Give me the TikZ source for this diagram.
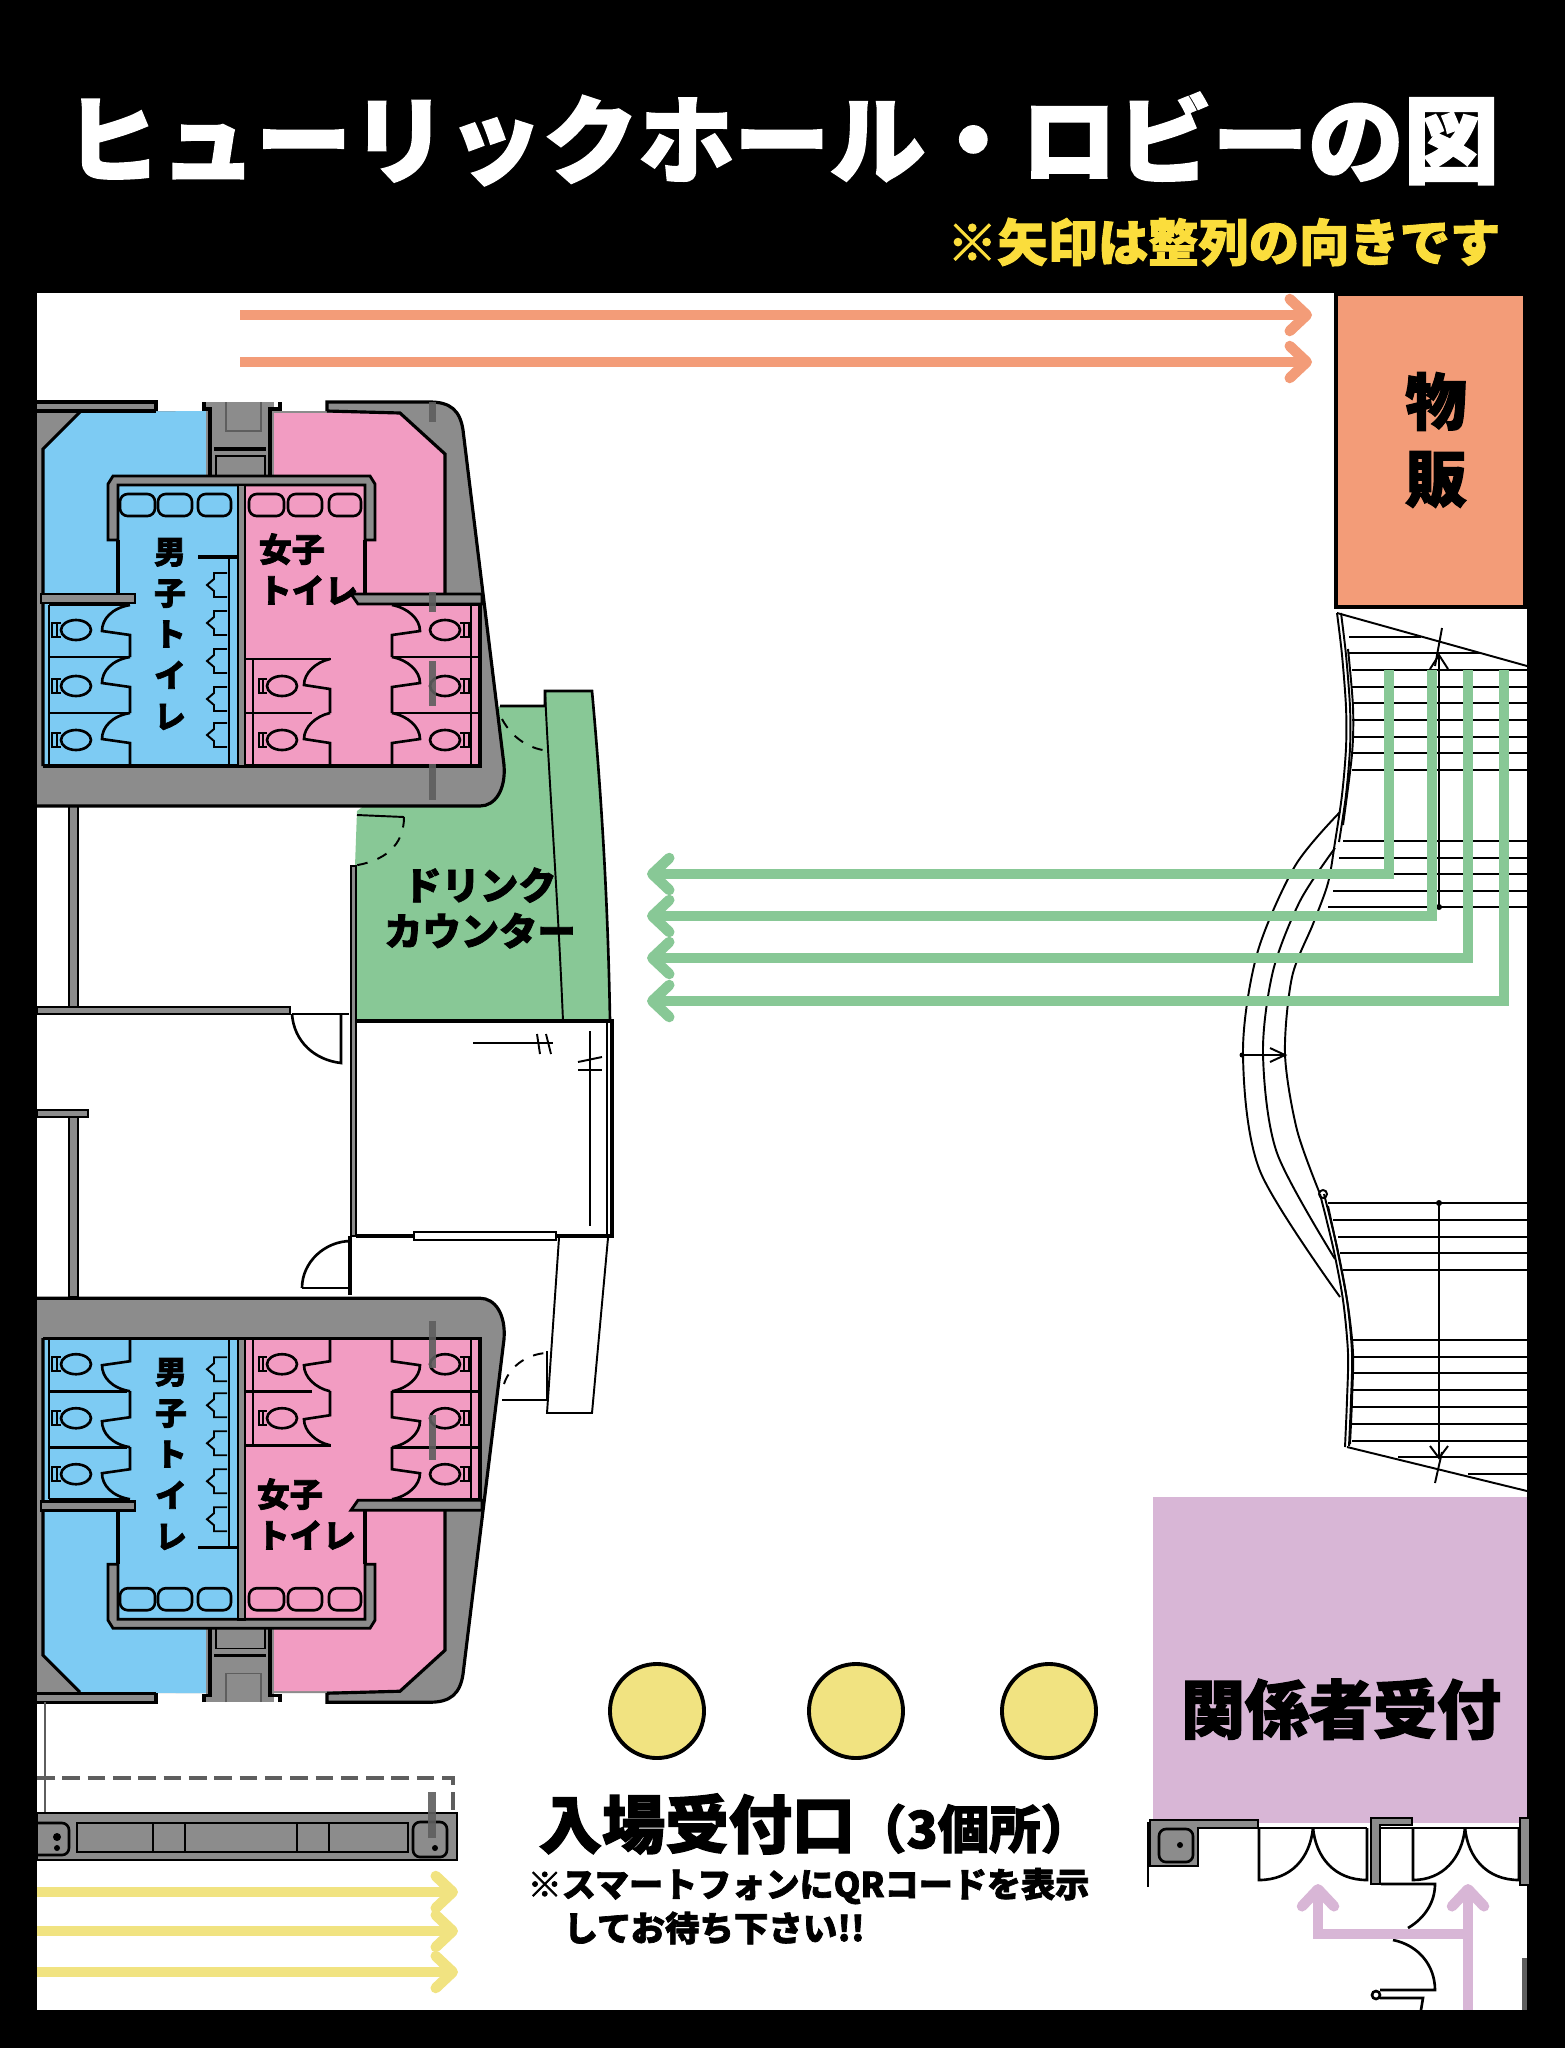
\documentclass[tikz,border=0pt]{standalone}
\usepackage{fontspec}
\usetikzlibrary{arrows.meta}
\newfontfamily\jpfont{Noto Sans CJK JP}[BoldFeatures={FakeBold=2}]
\definecolor{menblue}{HTML}{7DCBF3}
\definecolor{ladypink}{HTML}{F29CC2}
\definecolor{drinkgreen}{HTML}{88C896}
\definecolor{shoporange}{HTML}{F39C78}
\definecolor{staffpurple}{HTML}{D8B6D6}
\definecolor{gateyellow}{HTML}{F1E381}
\definecolor{notegold}{HTML}{FBDD3C}
\definecolor{wallgray}{HTML}{8C8C8C}
\definecolor{markgray}{HTML}{5E5E5E}

\newcommand{\toiletblock}{
  % outer walls
  \fill[wallgray] (37,402) -- (156,402) -- (156,411) -- (327,411) -- (327,402) -- (430,402)
    .. controls (450,402) and (460,410) .. (463,430) -- (504,765)
    .. controls (506,790) and (495,806) .. (480,806) -- (37,806) -- cycle;
  \draw[wall] (327,411) -- (327,402) -- (430,402)
    .. controls (450,402) and (460,410) .. (463,430) -- (504,765)
    .. controls (506,790) and (495,806) .. (480,806) -- (37,806);
  \draw[wall] (37,402) -- (156,402) -- (156,411);

  % rooms
  \fill[menblue] (43,449) -- (80,412) -- (206,411) -- (206,482) -- (238,482) -- (238,766) -- (43,766) -- cycle;
  \fill[ladypink] (274,413) -- (400,413) -- (445,454) -- (445,600) -- (480,600) -- (480,766) -- (245,766) -- (245,482) -- (274,482) -- cycle;
  \draw[wall] (37,411) -- (156,411);
  \draw[wall] (43,766) -- (43,449) -- (80,412);
  \draw[wall] (327,411) -- (400,413) -- (445,454) -- (445,597);
  \draw[wall] (43,766) -- (480,766) -- (480,600);

  % shaft between the rooms
  \fill[wallgray] (206,402) rectangle (274,476);
  \draw[wall] (204,402) -- (204,409) -- (210,409) -- (210,476);
  \draw[wall] (280,402) -- (280,409) -- (270,409) -- (270,476);
  \draw[thin,markgray] (226,402) -- (226,431) -- (261,431) -- (261,402);
  \draw[wall] (214,449) -- (266,449);
  \draw[thin] (216,456) rectangle (265,476);

  % L-shaped walls and partition
  \fill[wallgray,draw=black,thick] (108,540) -- (108,484) -- (113,476) -- (370,476) -- (375,484) -- (375,540)
    -- (365,540) -- (365,485) -- (118,485) -- (118,540) -- cycle;
  \fill[wallgray,draw=black,thick] (238,485) rectangle (245,766);
  \fill[wallgray,draw=black,thick] (41,594) -- (135,594) -- (135,603) -- (41,603) -- cycle;
  \fill[wallgray,draw=black,thick] (351,594) -- (482,594) -- (482,604) -- (358,604) -- cycle;
  \draw[wall] (118,540) -- (118,594);
  \draw[wall] (365,540) -- (365,594);

  % sinks
  \foreach \a/\b in {120/155,158/192,198/231,249/284,288/322,329/361} {
    \draw[stall,rounded corners=2.2pt] (\a,494) rectangle (\b,516);
  }

  % men: stalls
  \draw[stall] (49,605) -- (49,766);
  \foreach \t/\b in {605/657,657/713,713/765} {
    \draw[stall] (49,\t) -- (127,\t);
    \draw[stall] (130,\t) .. controls (112,\t+3) and (102,\t+14) .. (102,\t+26) -- (130,\t+30) -- (130,\b);
  }
  \foreach \y in {630,686,740} {
    \draw[stall] (76,\y) ellipse [x radius=15,y radius=10];
    \draw[stair] (61,\y-7) -- (52,\y-7) -- (52,\y+7) -- (61,\y+7);
    \draw[stair] (57,\y-7) -- (57,\y+7);
  }

  % men: urinals
  \draw[wall] (198,557) -- (238,557);
  \draw[stall] (229,557) -- (229,766);
  \foreach \y in {585,623,661,699,735} {
    \draw[stair] (227,\y-12) -- (214,\y-12) -- (214,\y-6) -- (207,\y) -- (214,\y+6) -- (214,\y+12) -- (227,\y+12);
  }

  % ladies: stalls on the left
  \draw[stall] (253,659) -- (253,766);
  \draw[stall] (245,659) -- (331,659);
  \draw[stall] (245,713) -- (312,713);
  \foreach \t/\b in {659/713,713/765} {
    \draw[stall] (330,\t) .. controls (316,\t+3) and (304,\t+14) .. (304,\t+26) -- (330,\t+30) -- (330,\b);
  }
  \foreach \y in {686,740} {
    \draw[stall] (282,\y) ellipse [x radius=15,y radius=10];
    \draw[stair] (267,\y-7) -- (259,\y-7) -- (259,\y+7) -- (267,\y+7);
    \draw[stair] (263,\y-7) -- (263,\y+7);
  }

  % ladies: stalls on the right
  \draw[stall] (471,605) -- (471,766);
  \foreach \t/\b in {605/657,657/713,713/765} {
    \draw[stall] (392,\t) -- (480,\t);
    \draw[stall] (392,\t) .. controls (408,\t+3) and (420,\t+14) .. (420,\t+26) -- (392,\t+30) -- (392,\b);
  }
  \foreach \y in {630,686,740} {
    \draw[stall] (445,\y) ellipse [x radius=15,y radius=10];
    \draw[stair] (460,\y-7) -- (469,\y-7) -- (469,\y+7) -- (460,\y+7);
    \draw[stair] (464,\y-7) -- (464,\y+7);
  }
}

\begin{document}
\begin{tikzpicture}[x=0.01cm,y=-0.01cm,
    jp/.style={font=\jpfont\bfseries,inner sep=0pt,align=center},
    wall/.style={line width=0.9pt,black},
    stall/.style={line width=0.75pt,black},
    stair/.style={line width=0.55pt,black},
    route/.style={line width=0.105cm,line join=miter,-{Straight Barb[length=0.17cm,width=0.32cm,round]}},
    pillar/.style={markgray,opacity=0.9}]

% page
  \fill[black] (0,0) rectangle (1565,2048);
  \useasboundingbox (0,0) rectangle (1565,2048);
  \fill[white] (37,293) rectangle (1527,2010);

% title
  \node[jp,text=white,font=\jpfont\bfseries\fontsize{27.2}{30}\selectfont] (title) at (782,139) {ヒューリックホール・ロビーの図};
  \node[jp,text=notegold,anchor=east,font=\jpfont\bfseries\fontsize{14.3}{16}\selectfont] (note) at (1501,242) {※矢印は整列の向きです};

% drink counter
  \fill[drinkgreen] (357,811) -- (500,706) -- (545,706) -- (545,691) -- (592,691)
    .. controls (601,790) and (608,900) .. (610,1021) -- (355,1021) -- (355,866) -- cycle;
  \draw[stall] (500,706) -- (545,706) -- (545,691) -- (592,691) .. controls (601,790) and (608,900) .. (610,1021);
  \draw[stair] (545,691) .. controls (549,780) and (558,900) .. (563,1021);
  \draw[stair,dashed] (502,719) .. controls (512,738) and (530,750) .. (551,751);
  \draw[stair] (357,815) -- (404,817);
  \draw[stair,dashed] (404,817) .. controls (404,845) and (385,862) .. (351,866);
  \fill[wallgray,draw=black,thin] (351,866) rectangle (356,1236);

% small rooms on the left
  \fill[wallgray,draw=black,thin] (69,806) rectangle (78,1007);
  \fill[wallgray,draw=black,thin] (37,1007) rectangle (290,1014);
  \draw[stair] (292,1014) -- (349,1014);
  \draw[stall] (341,1014) -- (341,1063) .. controls (315,1060) and (294,1042) .. (292,1014);
  \fill[wallgray,draw=black,thin] (37,1110) rectangle (88,1117);
  \fill[wallgray,draw=black,thin] (69,1117) rectangle (78,1297);

% room under the drink counter
  \draw[wall] (356,1021) -- (612,1021) -- (612,1236) -- (356,1236);
  \draw[stair] (607,1021) -- (607,1236);
  \draw[stall] (473,1043) -- (553,1043);
  \draw[stair] (537,1034) -- (540,1054);
  \draw[stair] (546,1034) -- (551,1054);
  \draw[stall] (590,1031) -- (590,1226);
  \draw[stair] (578,1062) -- (602,1057);
  \draw[stair] (578,1070) -- (602,1070);
  \draw[wall] (350,1236) -- (350,1295);
  \draw[stair,fill=white] (414,1232) rectangle (556,1240);
  \draw[stall] (351,1241) .. controls (325,1241) and (302,1262) .. (302,1288);
  \draw[stair] (302,1288) -- (351,1288);

% small stand below that room
  \draw[stair] (559,1238) -- (547,1413) -- (592,1413) -- (608,1238);
  \draw[stall] (502,1400) -- (547,1400) -- (547,1351);
  \draw[stair,dashed] (504,1384) .. controls (510,1365) and (530,1352) .. (551,1353);

% toilets
  \toiletblock
  \begin{scope}[y=0.01cm,yshift=-21.03cm]
    \toiletblock
  \end{scope}
  \fill[pillar] (429,402) rectangle (436,422);
  \fill[pillar] (429,592) rectangle (436,612);
  \fill[pillar] (429,661) rectangle (436,706);
  \fill[pillar] (429,764) rectangle (436,800);
  \fill[pillar] (429,1321) rectangle (436,1368);
  \fill[pillar] (429,1415) rectangle (436,1460);

  \node[jp,font=\jpfont\bfseries\fontsize{9}{11.7}\selectfont] (menup) at (170,634) {男\\子\\ト\\イ\\レ};
  \node[jp,font=\jpfont\bfseries\fontsize{9}{11.7}\selectfont] (menlow) at (171,1454) {男\\子\\ト\\イ\\レ};
  \node[jp,align=left,anchor=west,font=\jpfont\bfseries\fontsize{9.4}{11.7}\selectfont] (ladyup) at (258,569) {女子\\トイレ};
  \node[jp,align=left,anchor=west,font=\jpfont\bfseries\fontsize{9.4}{11.7}\selectfont] (ladylow) at (256,1514) {女子\\トイレ};
  \node[jp,font=\jpfont\bfseries\fontsize{10.9}{13}\selectfont] (drink) at (480,908) {ドリンク\\カウンター};

% bar at the bottom left
  \draw[stair,markgray] (45,1702) -- (45,1812);
  \draw[markgray,line width=1pt,dash pattern=on 5pt off 2.2pt] (37,1778) -- (453,1778) -- (453,1812);
  \fill[wallgray,draw=black,thick] (37,1813) rectangle (457,1860);
  \draw[stall] (77,1823) rectangle (408,1852);
  \foreach \x in {153,185,297,329} {
    \draw[stall] (\x,1823) -- (\x,1852);
  }
  \draw[stall,rounded corners=2pt] (37,1823) -- (69,1823) -- (69,1855) -- (37,1855);
  \draw[stall,rounded corners=2pt] (413,1822) rectangle (447,1857);
  \fill[black] (57,1837) circle (4);
  \fill[black] (57,1848) circle (3);
  \fill[black] (435,1848) circle (3);
  \fill[pillar] (428,1792) rectangle (436,1838);

% shop
  \fill[shoporange,draw=black,line width=1.3pt] (1336,294) rectangle (1525,607);
  \node[jp,font=\jpfont\bfseries\fontsize{17.5}{21.8}\selectfont] (shop) at (1436,440) {物\\販};

% stairs, upper part
  \draw[stair] (1337,613) -- (1527,666);
  \draw[stair] plot[smooth] coordinates {(1341,613) (1346,655) (1350,707) (1350,748) (1346,795) (1339,842)};
  \draw[stair] plot[smooth] coordinates {(1348,649) (1353,707) (1352,754) (1343,825)};
  \foreach \y/\x in {637/1421,653/1480} {
    \draw[stair] (1349,\y) -- (\x,\y);
  }
  \foreach \y in {670,687,703,720,737,753,770} {
    \draw[stair] (1352,\y) -- (1527,\y);
  }
  \foreach \y/\x in {841/1343,858/1339,874/1336,891/1333,907/1328} {
    \draw[stair] (\x,\y) -- (1527,\y);
  }
  \draw[stall] (1439,907) -- (1439,657);
  \fill[black] (1439,907) circle (3);
  \draw[stair] (1430,669) -- (1439,655) -- (1448,669);
  \draw[stair] (1442,628) -- (1435,666);

% stairs, curved part
  \draw[stair] plot[smooth] coordinates {(1340,812) (1295,866) (1257,954) (1243,1054) (1260,1171) (1340,1297)};
  \draw[stair] plot[smooth] coordinates {(1335,848) (1300,901) (1273,971) (1263,1054) (1277,1153) (1335,1259)};
  \draw[stair] plot[smooth] coordinates {(1337,613) (1342,655) (1346,707) (1346,748) (1342,795) (1335,842) (1328,883) (1313,924) (1292,977) (1285,1054) (1297,1130) (1320,1194)};
  \fill[black] (1242,1055) circle (2.5);
  \draw[stair] (1242,1055) -- (1285,1055);
  \draw[stair] (1270,1048) -- (1285,1055) -- (1270,1062);
  \draw[stair,fill=white] (1323,1194) circle (4);

% stairs, lower part
  \draw[stair] plot[smooth] coordinates {(1320,1194) (1333,1247) (1343,1300) (1348,1353) (1347,1400) (1345,1447)};
  \draw[stair] plot[smooth] coordinates {(1324,1194) (1337,1247) (1347,1300) (1352,1353) (1351,1400) (1349,1446)};
  \draw[stair] plot[smooth] coordinates {(1328,1206) (1338,1253) (1348,1306) (1353,1353) (1352,1400) (1350,1444)};
  \foreach \y/\x in {1203/1328,1220/1333,1237/1338,1253/1340,1270/1343} {
    \draw[stair] (\x,\y) -- (1527,\y);
  }
  \foreach \y in {1340,1357,1373,1390,1407,1424,1441} {
    \draw[stair] (1352,\y) -- (1527,\y);
  }
  \foreach \y/\x in {1457/1398,1474/1468} {
    \draw[stair] (\x,\y) -- (1527,\y);
  }
  \draw[stair] (1347,1447) -- (1527,1491);
  \draw[stall] (1439,1203) -- (1439,1456);
  \fill[black] (1439,1203) circle (3);
  \draw[stair] (1430,1446) -- (1439,1458) -- (1448,1446);
  \draw[stair] (1442,1452) -- (1435,1483);

% drink queue
  \foreach \x/\y in {1389/874,1432/916,1468/958,1504/1001} {
    \draw[route,drinkgreen] (\x,670) -- (\x,\y) -- (647,\y);
  }

% shop and entrance queue
  \foreach \y in {315,362} {
    \draw[route,shoporange] (240,\y) -- (1312,\y);
  }
  \foreach \y in {1892,1931,1972} {
    \draw[route,gateyellow] (37,\y) -- (458,\y);
  }

% staff desk
  \fill[staffpurple] (1153,1497) rectangle (1527,1823);
  \node[jp,font=\jpfont\bfseries\fontsize{18.2}{20}\selectfont] (staff) at (1341,1709) {関係者受付};

% doors under the staff desk
  \fill[wallgray,draw=black,thin] (1150,1820) -- (1258,1820) -- (1258,1828) -- (1198,1828) -- (1198,1866) -- (1150,1866) -- cycle;
  \draw[stall,rounded corners=2pt] (1159,1829) rectangle (1193,1862);
  \fill[black] (1180,1845) circle (3);
  \draw[stall] (1148,1822) -- (1148,1887);
  \fill[wallgray,draw=black,thin] (1371,1818) -- (1412,1818) -- (1412,1825) -- (1380,1825) -- (1380,1884) -- (1371,1884) -- cycle;
  \draw[stall] (1258,1828) -- (1367,1828);
  \draw[stall] (1380,1828) -- (1527,1828);
  \foreach \l/\c/\r in {1259/1313/1367,1413/1465/1519} {
    \draw[stall] (\l,1828) -- (\l,1880) .. controls (\c-22,1880) and (\c-3,1858) .. (\c,1828);
    \draw[stall] (\r,1828) -- (\r,1880) .. controls (\c+22,1880) and (\c+3,1858) .. (\c,1828);
  }
  \fill[wallgray,draw=black,thin] (1520,1818) rectangle (1530,1885);
  \draw[stall] (1381,1884) -- (1435,1884) .. controls (1435,1902) and (1425,1918) .. (1408,1928);
  \draw[stall] (1393,1940) .. controls (1418,1945) and (1435,1965) .. (1435,1990) -- (1380,1990);
  \draw[stall,fill=white] (1376,1995) circle (4);
  \draw[stall] (1380,1998) -- (1423,1998) -- (1421,2010);
  \fill[markgray] (1522,1958) rectangle (1527,2010);

% staff queue
  \draw[route,staffpurple] (1468,2010) -- (1468,1884);
  \draw[route,staffpurple] (1468,1934) -- (1318,1934) -- (1318,1884);

% entrance gates
  \foreach \x/\g in {657/a,856/b,1049/c} {
    \node[circle,draw=black,line width=1.1pt,fill=gateyellow,minimum size=0.94cm,inner sep=0pt] (gate\g) at (\x,1711) {};
  }
  \node[jp,anchor=west,font=\jpfont\bfseries\fontsize{18}{20}\selectfont] (gates) at (538,1824) {入場受付口{\fontsize{14.6}{15}\selectfont（3個所）}};
  \node[jp,anchor=west,font=\jpfont\bfseries\fontsize{9.7}{11}\selectfont] (howto) at (527,1886) {※スマートフォンにQRコードを表示};
  \node[jp,anchor=west,font=\jpfont\bfseries\fontsize{9.8}{11}\selectfont] (wait) at (563,1928) {してお待ち下さい!!};

\end{tikzpicture}
\end{document}
